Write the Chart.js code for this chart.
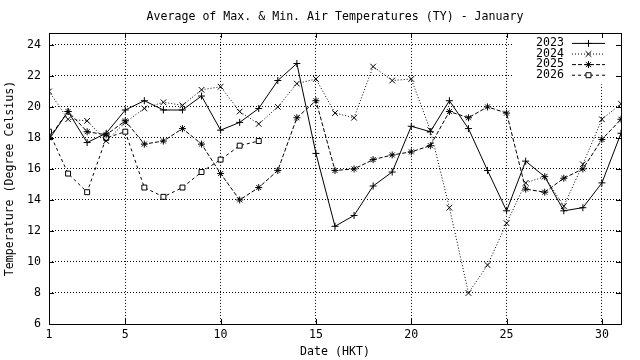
<!DOCTYPE html>
<html>
<head>
<meta charset="utf-8">
<script src="https://cdn.jsdelivr.net/npm/chart.js@4/dist/chart.umd.min.js"></script>
<style>
  html, body { margin: 0; padding: 0; background: #fff; }
  canvas { display: block; }
</style>
</head>
<body>
<canvas id="myChart" width="640" height="360"></canvas>
<script>
/* global Chart */

const days = [1, 2, 3, 4, 5, 6, 7, 8, 9, 10, 11, 12, 13, 14, 15, 16,
  17, 18, 19, 20, 21, 22, 23, 24, 25, 26, 27, 28, 29, 30, 31];

const t2023 = [17.9, 19.7, 17.7, 18.3, 19.8, 20.4, 19.8, 19.8, 20.7, 18.5, 19.0, 19.9, 21.7, 22.8, 17.0, 12.3,
  13.0, 14.9, 15.8, 18.75, 18.4, 20.4, 18.6, 15.9, 13.3, 16.5, 15.5, 13.3, 13.5, 15.1, 18.3];
const t2024 = [21.0, 19.2, 19.1, 17.8, 19.0, 19.9, 20.3, 20.1, 21.1, 21.3, 19.7, 18.9, 20.0, 21.5, 21.8, 19.6,
  19.3, 22.6, 21.7, 21.8, 18.5, 13.5, 8.0, 9.8, 12.5, 15.1, 15.5, 13.6, 16.3, 19.2, 20.2];
const t2025 = [18.0, 19.7, 18.4, 18.2, 19.1, 17.6, 17.8, 18.6, 17.6, 15.7, 14.0, 14.8, 15.9, 19.3, 20.4, 15.9,
  16.0, 16.6, 16.9, 17.1, 17.5, 19.7, 19.3, 20.0, 19.6, 14.7, 14.5, 15.4, 16.0, 17.9, 19.2];
const t2026 = [18.4, 15.7, 14.5, 18.0, 18.4, 14.8, 14.2, 14.8, 15.8, 16.6, 17.5, 17.8];

const xTicks = [1, 5, 10, 15, 20, 25, 30];
const yTicks = [6, 8, 10, 12, 14, 16, 18, 20, 22, 24];

const FONT = 'DejaVu Sans Mono';
Chart.defaults.font.family = FONT;
Chart.defaults.font.size = 11.6;
Chart.defaults.color = '#000';

function points(values) {
  return values.map((v, i) => ({ x: days[i], y: v }));
}

function series(label, values, style, radius, dash) {
  return {
    label: label,
    data: points(values),
    borderColor: '#000',
    borderWidth: 1,
    borderDash: dash,
    pointStyle: style,
    pointRadius: radius,
    pointBorderWidth: 1,
    pointBorderColor: '#000',
    pointBackgroundColor: '#fff',
    fill: false,
    tension: 0,
  };
}

/* frame, inward ticks and the key */
const gnuFrame = {
  id: 'gnuFrame',
  afterLayout(chart) {
    // centre the title over the plot box, like gnuplot does
    const a = chart.chartArea;
    if (chart.titleBlock) {
      chart.titleBlock.left = a.left;
      chart.titleBlock.right = a.right;
    }
  },
  beforeDatasetsDraw(chart) {
    const ctx = chart.ctx;
    const a = chart.chartArea;
    const sets = chart.data.datasets;
    const right = a.right - 16;
    const top = a.top + 10;
    const rowH = 10.6;
    ctx.save();
    ctx.fillStyle = '#fff';
    ctx.fillRect(right - 92, a.top + 1, 92 + 15, sets.length * rowH + 8);
    ctx.font = '11.6px ' + FONT;
    ctx.textAlign = 'right';
    ctx.textBaseline = 'middle';
    sets.forEach(function(ds, i) {
      const y = top + i * rowH;
      ctx.fillStyle = '#000';
      ctx.fillText(ds.label, right - 41, y);
      ctx.strokeStyle = '#000';
      ctx.lineWidth = 1;
      ctx.setLineDash(ds.borderDash || []);
      ctx.beginPath();
      ctx.moveTo(right - 33, y + 0.5);
      ctx.lineTo(right, y + 0.5);
      ctx.stroke();
      ctx.setLineDash([]);
      ctx.fillStyle = '#fff';
      Chart.helpers.drawPoint(ctx, {
        pointStyle: ds.pointStyle, radius: ds.pointRadius, rotation: 0, borderWidth: 1
      }, right - 16.5, y + 0.5);
    });
    ctx.restore();
  },
  afterDraw(chart) {
    const ctx = chart.ctx;
    const a = chart.chartArea;
    const xs = chart.scales.x;
    const ys = chart.scales.y;
    ctx.save();
    ctx.strokeStyle = '#000';
    ctx.lineWidth = 1;
    ctx.setLineDash([]);
    ctx.strokeRect(Math.round(a.left) + 0.5, Math.round(a.top) + 0.5,
      Math.round(a.right - a.left), Math.round(a.bottom - a.top));
    ctx.beginPath();
    xTicks.forEach(function(v) {
      const x = Math.round(xs.getPixelForValue(v)) + 0.5;
      ctx.moveTo(x, a.bottom); ctx.lineTo(x, a.bottom - 5);
      ctx.moveTo(x, a.top); ctx.lineTo(x, a.top + 5);
    });
    yTicks.forEach(function(v) {
      const y = Math.round(ys.getPixelForValue(v)) + 0.5;
      ctx.moveTo(a.left, y); ctx.lineTo(a.left + 5, y);
      ctx.moveTo(a.right, y); ctx.lineTo(a.right - 5, y);
    });
    ctx.stroke();
    ctx.restore();
  }
};

const ctx = document.getElementById('myChart').getContext('2d');

const chart = new Chart(ctx, {
  type: 'line',
  data: {
    datasets: [
      series('2023', t2023, 'cross', 3.5, []),
      series('2024', t2024, 'crossRot', 4, [1, 2]),
      series('2025', t2025, 'star', 3.5, [4, 2]),
      series('2026', t2026, 'rect', 3.5, [3, 3]),
    ]
  },
  options: {
    responsive: false,
    animation: false,
    devicePixelRatio: 1,
    layout: { padding: { left: 0, right: 19, top: 0, bottom: 0 } },
    plugins: {
      legend: { display: false },
      tooltip: { enabled: false },
      title: {
        display: true,
        text: 'Average of Max. & Min. Air Temperatures (TY) - January',
        font: { family: FONT, size: 11.6, weight: 'normal' },
        color: '#000',
        padding: { top: 10, bottom: 9 },
      },
    },
    scales: {
      x: {
        type: 'linear',
        min: 1,
        max: 31,
        afterBuildTicks(scale) { scale.ticks = xTicks.map(v => ({ value: v })); },
        afterFit(scale) { scale.height = 36; },
        ticks: { padding: 4, maxRotation: 0, autoSkip: false },
        grid: {
          drawTicks: false,
          color: c => (c.tick && c.tick.value === 1 ? 'rgba(0,0,0,0)' : '#000'),
        },
        border: { display: false, dash: [1, 2] },
        title: { display: true, text: 'Date (HKT)', padding: { top: 0, bottom: 1 } },
      },
      y: {
        min: 6,
        max: 24.77,
        afterBuildTicks(scale) { scale.ticks = yTicks.map(v => ({ value: v })); },
        afterFit(scale) { scale.width = 49; },
        ticks: { padding: 8 },
        grid: {
          drawTicks: false,
          color: c => (c.tick && c.tick.value === 6 ? 'rgba(0,0,0,0)' : '#000'),
        },
        border: { display: false, dash: [1, 2] },
        title: { display: true, text: 'Temperature (Degree Celsius)', padding: { top: 3, bottom: 0 } },
      },
    },
  },
  plugins: [gnuFrame],
});
console.log(chart);
</script>
</body>
</html>
